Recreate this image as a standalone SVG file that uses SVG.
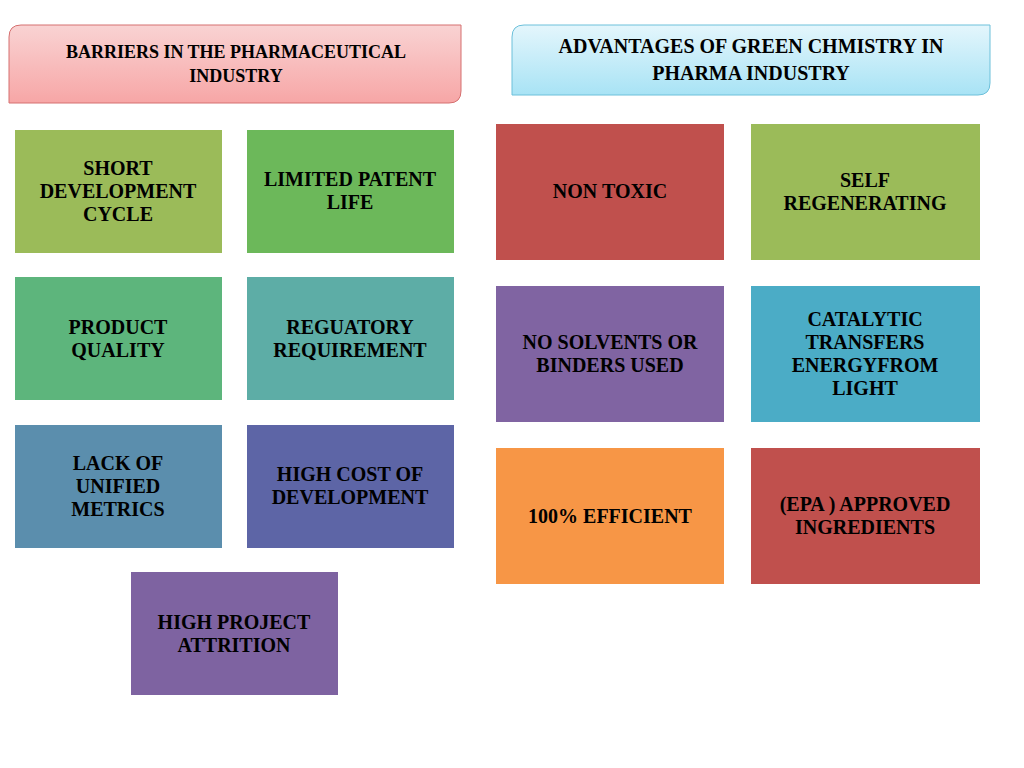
<svg xmlns="http://www.w3.org/2000/svg" width="1024" height="768" viewBox="0 0 1024 768">
<defs>
<linearGradient id="gr" x1="0" y1="0" x2="0" y2="1"><stop offset="0" stop-color="#f9d3d3"/><stop offset="1" stop-color="#f7a6a6"/></linearGradient>
<linearGradient id="gb" x1="0" y1="0" x2="0" y2="1"><stop offset="0" stop-color="#e4f6fc"/><stop offset="1" stop-color="#a8e3f5"/></linearGradient>
</defs>
<style>
text{font-family:"Liberation Serif",serif;font-weight:bold;font-size:20px;fill:#000;text-anchor:middle}
.h{font-size:18px}
</style>
<rect width="1024" height="768" fill="#fff"/>
<g id="header-barriers">
<path d="M21,25 H461 V91 Q461,103 449,103 H9 V37 Q9,25 21,25 Z" fill="url(#gr)" stroke="#d57070" stroke-width="1"/>
<text class="h" x="236" y="58">BARRIERS IN THE PHARMACEUTICAL</text>
<text class="h" x="236" y="82">INDUSTRY</text>
</g>
<g id="header-advantages">
<path d="M524,25 H990 V83 Q990,95 978,95 H512 V37 Q512,25 524,25 Z" fill="url(#gb)" stroke="#6cc0da" stroke-width="1"/>
<text x="751" y="53">ADVANTAGES OF GREEN CHMISTRY IN</text>
<text x="751" y="80">PHARMA INDUSTRY</text>
</g>
<g id="n1"><rect x="15" y="130" width="207" height="123" fill="#9bbb59"/><text x="118" y="175">SHORT</text><text x="118" y="198">DEVELOPMENT</text><text x="118" y="221">CYCLE</text></g>
<g id="n2"><rect x="247" y="130" width="207" height="123" fill="#6cb85a"/><text x="350" y="186">LIMITED PATENT</text><text x="350" y="209">LIFE</text></g>
<g id="n3"><rect x="15" y="277" width="207" height="123" fill="#5db57c"/><text x="118" y="334">PRODUCT</text><text x="118" y="357">QUALITY</text></g>
<g id="n4"><rect x="247" y="277" width="207" height="123" fill="#5dada6"/><text x="350" y="334">REGUATORY</text><text x="350" y="357">REQUIREMENT</text></g>
<g id="n5"><rect x="15" y="425" width="207" height="123" fill="#5b8ead"/><text x="118" y="470">LACK OF</text><text x="118" y="493">UNIFIED</text><text x="118" y="516">METRICS</text></g>
<g id="n6"><rect x="247" y="425" width="207" height="123" fill="#5d65a6"/><text x="350" y="481">HIGH COST OF</text><text x="350" y="504">DEVELOPMENT</text></g>
<g id="n7"><rect x="131" y="572" width="207" height="123" fill="#7e63a1"/><text x="234" y="629">HIGH PROJECT</text><text x="234" y="652">ATTRITION</text></g>
<g id="a1"><rect x="496" y="124" width="228" height="136" fill="#c0504d"/><text x="610" y="198">NON TOXIC</text></g>
<g id="a2"><rect x="751" y="124" width="229" height="136" fill="#9bbb59"/><text x="865" y="187">SELF</text><text x="865" y="210">REGENERATING</text></g>
<g id="a3"><rect x="496" y="286" width="228" height="136" fill="#8064a2"/><text x="610" y="349">NO SOLVENTS OR</text><text x="610" y="372">BINDERS USED</text></g>
<g id="a4"><rect x="751" y="286" width="229" height="136" fill="#4bacc6"/><text x="865" y="326">CATALYTIC</text><text x="865" y="349">TRANSFERS</text><text x="865" y="372">ENERGYFROM</text><text x="865" y="395">LIGHT</text></g>
<g id="a5"><rect x="496" y="448" width="228" height="136" fill="#f79646"/><text x="610" y="523">100% EFFICIENT</text></g>
<g id="a6"><rect x="751" y="448" width="229" height="136" fill="#c0504d"/><text x="865" y="511">(EPA ) APPROVED</text><text x="865" y="534">INGREDIENTS</text></g>
<g id="connectors"/>
</svg>
